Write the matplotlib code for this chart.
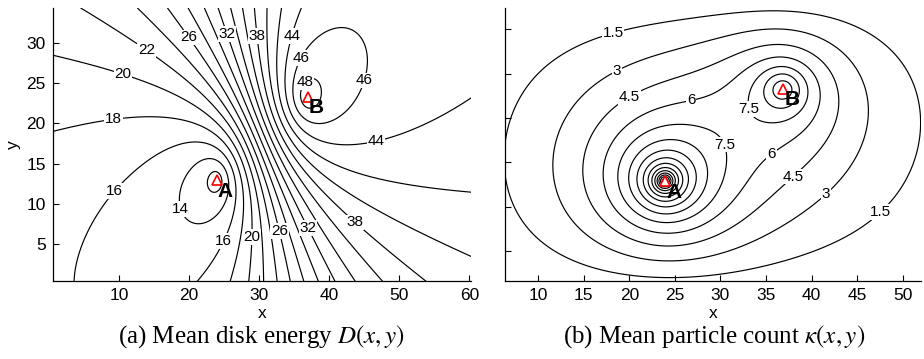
import numpy as np
import matplotlib
matplotlib.use("Agg")
import matplotlib.pyplot as plt

plt.rcParams['font.family'] = ['Liberation Sans', 'DejaVu Sans']
plt.rcParams['mathtext.fontset'] = 'stix'

# ---------------- sources A and B (same positions in both panels)
source_names = ["A", "B"]
source_x = [23.9, 36.9]
source_y = [12.9, 23.3]

# ---------------- panel (a): mean disk energy D(x,y)
# contour points: x, y, level
D_obs_x = [0.5, 0.5, 0.5, 4.8,
           9.5, 14.3, 17.6, 20.1, 21.7, 23.8, 25.7, 27.0, 28.7, 30.2, 31.9, 33.3, 35.0,
           23.2, 26.7, 29.0, 30.8, 32.5, 34.2, 36.0, 37.6, 39.5, 41.8, 44.8, 48.6,
           60.0, 60.0, 60.0,
           20.2, 10.2, 24.7, 9.5, 9.9, 28.9, 12.9, 18.6, 33.3, 24.2, 37.7, 28.8, 44.5,
           34.4, 46.4, 36.4, 44.4, 37.1,
           19.7, 23.3, 21.4, 21.4,
           38.6, 43.3, 45.5]
D_obs_y = [3.9, 17.7, 27.8, 6.7,
           34.0, 34.0, 34.0, 34.0, 34.0, 34.0, 34.0, 34.0, 34.0, 34.0, 34.0, 34.0, 34.0,
           0.5, 0.5, 0.5, 0.5, 0.5, 0.5, 0.5, 0.5, 0.5, 0.5, 0.5, 0.5,
           3.5, 14.0, 22.0,
           9.85, 10.7, 5.6, 18.1, 23.7, 5.8, 27.4, 29.7, 6.7, 30.7, 7.4, 30.7, 8.8,
           30.8, 19.8, 27.9, 25.6, 24.5,
           11.3, 14.4, 8.8, 15.9,
           21.0, 22.9, 29.9]
D_obs_level = [16, 18, 20, 16,
               22, 24, 26, 28, 30, 32, 34, 36, 38, 40, 42, 44, 46,
               16, 18, 20, 22, 24, 26, 28, 30, 32, 34, 36, 38,
               40, 42, 44,
               14, 16, 16, 18, 20, 20, 22, 26, 26, 32, 32, 38, 38,
               44, 44, 46, 46, 48,
               14, 14, 14, 16,
               46, 46, 46]
energy_core = 0.15
energy_levels = list(range(12, 52, 2))

# ---------------- panel (b): mean particle count kappa(x,y)
kappa_obs_x = [6.4, 33.2, 52.1, 21.8, 18.0, 48.0, 10.5,
               11.0, 18.5, 41.9, 48.5, 34.3, 23.3,
               20.0, 38.1, 14.1, 43.0, 24.0,
               26.9, 35.4, 16.7, 24.0, 40.7,
               29.5, 34.0, 18.4, 24.0, 24.0,
               19.7, 20.4, 21.1, 21.7, 22.2,
               34.1]
kappa_obs_y = [14.5, 31.8, 19.8, 1.9, 29.9, 8.9, 25.8,
               15.25, 25.6, 11.1, 19.0, 29.5, 4.5,
               22.4, 13.2, 14.5, 20.9, 6.4,
               21.5, 16.1, 14.1, 7.7, 22.4,
               16.6, 21.3, 12.9, 8.67, 17.9,
               12.9, 12.9, 12.9, 12.9, 12.9,
               23.3]
kappa_obs_level = [1.5, 1.5, 1.5, 1.5, 1.5, 1.5, 1.5,
                   3, 3, 3, 3, 3, 3,
                   4.5, 4.5, 4.5, 4.5, 4.5,
                   6, 6, 6, 6, 6,
                   7.5, 7.5, 7.5, 7.5, 7.5,
                   9, 10.5, 12, 13.5, 15,
                   9]
kappa_source_width = [0.3, 0.9]
kappa_levels = list(np.arange(1.5, 45.0, 1.5))

# ---------------- label placement (layout)
D_label_pos = {14: [(20.2, 9.85)], 16: [(10.2, 10.7), (24.7, 5.6)],
               18: [(9.5, 18.1)], 20: [(9.9, 23.7), (28.9, 5.8)],
               22: [(12.9, 27.4)], 26: [(18.6, 29.7), (33.3, 6.7)],
               32: [(24.2, 30.7), (37.7, 7.4)], 38: [(28.8, 30.7), (44.5, 8.8)],
               44: [(34.4, 30.8), (46.4, 19.8)], 46: [(36.4, 27.9), (44.4, 25.6)],
               48: [(37.1, 24.5)]}
K_label_pos = {1.5: [(18.0, 29.9), (48.0, 8.9)], 3.0: [(18.5, 25.6), (41.9, 11.1)],
               4.5: [(20.0, 22.4), (38.1, 13.2)], 6.0: [(26.9, 21.5), (35.4, 16.1)],
               7.5: [(29.5, 16.6), (34.0, 21.3)]}

# ================= helper: modified Bessel K0 via its integral
_t = np.linspace(0.0, 11.0, 1601)
_w = np.full(_t.shape, _t[1] - _t[0])
_w[0] *= 0.5
_w[-1] *= 0.5
_ch = np.cosh(_t)


def bessel_k0(z):
    z = np.asarray(z, float)
    flat = z.ravel()
    out = np.empty_like(flat)
    for i in range(0, flat.size, 1500):
        zz = flat[i:i + 1500]
        out[i:i + 1500] = np.exp(-zz[:, None] * _ch[None, :]) @ _w
    return out.reshape(z.shape)


def k0_pair(px, py, L, ratio, e_up, e_dn):
    out = []
    for sx, sy, Ls in zip(source_x, source_y, [L, L * ratio]):
        dyv = py - sy
        ev = np.where(dyv > 0, e_up, e_dn)
        r = np.sqrt((px - sx) ** 2 + (ev * dyv) ** 2 + energy_core ** 2)
        out.append(bessel_k0(r / Ls))
    return out


# ================= panel (a): fit energy mixing model to contour points
dx_ = np.array(D_obs_x, float)
dy_ = np.array(D_obs_y, float)
dl_ = np.array(D_obs_level, float)
hh = 0.3
shifts = [(0.0, 0.0), (hh, 0.0), (-hh, 0.0), (0.0, hh), (0.0, -hh)]
bestD = None
for L in [8.0, 10.0, 12.0, 15.0]:
    for ratio in [0.85, 1.0, 1.15]:
        for e_up in [0.6, 0.75, 0.9]:
            for e_dn in [0.8, 1.0, 1.2, 1.4]:
                bases = []
                for sxx, syy in shifts:
                    kA, kB = k0_pair(dx_ + sxx, dy_ + syy, L, ratio, e_up, e_dn)
                    bases.append(kB / kA)
                for beta in [0.0, 0.01, 0.02, 0.035, 0.05]:
                    for gam in [-0.015, -0.01, -0.005, 0.0, 0.005]:
                        qs = [b * np.exp(beta * (dy_ + syy - 18.0) + gam * (dx_ + sxx - 30.0))
                              for b, (sxx, syy) in zip(bases, shifts)]
                        q0 = qs[0]
                        wv = np.ones_like(q0)
                        ok = True
                        for _ in range(4):
                            A = np.stack([np.ones_like(q0), q0, -dl_ * q0], axis=1) * wv[:, None]
                            EA, rEB, rho = np.linalg.lstsq(A, dl_ * wv, rcond=None)[0]
                            if rho <= 0:
                                ok = False
                                break
                            Ds = [(EA + rEB * q) / (1.0 + rho * q) for q in qs]
                            gx = (Ds[1] - Ds[2]) / (2 * hh)
                            gy = (Ds[3] - Ds[4]) / (2 * hh)
                            g = np.maximum(np.hypot(gx, gy), 0.08)
                            wv = 1.0 / ((1.0 + rho * q0) * g)
                        if not ok:
                            continue
                        EB = rEB / rho
                        if not (0.0 < EA < 13.8 and 48.3 < EB < 75.0):
                            continue
                        res = np.sum(((Ds[0] - dl_) / g) ** 2)
                        if bestD is None or res < bestD[0]:
                            bestD = (res, L, ratio, e_up, e_dn, beta, gam, EA, EB, rho)

if bestD is None:
    bestD = (0, 10.0, 1.0, 0.8, 0.8, 0.0, 0.0, 10.0, 51.0, 1.05)
_, LD, ratD, eupD, ednD, betaD, gamD, EA, EB, rhoD = bestD
xa = np.arange(0.2, 60.5, 0.25)
ya = np.arange(0.1, 34.6, 0.25)
XA, YA = np.meshgrid(xa, ya)
gA, gB = k0_pair(XA, YA, LD, ratD, eupD, ednD)
Rg = rhoD * gB / gA * np.exp(betaD * (YA - 18.0) + gamD * (XA - 30.0))
D = (EA + EB * Rg) / (1.0 + Rg)

# ================= panel (b) field: screened diffusion in a box (mode sum)
NM, NN = 260, 150


def mode_coeffs(box, L, sx, sy, sig):
    x0, x1, y0, y1 = box
    W, H = x1 - x0, y1 - y0
    km = np.arange(1, NM + 1) * np.pi / W
    kn = np.arange(1, NN + 1) * np.pi / H
    k2 = km[:, None] ** 2 + kn[None, :] ** 2
    c = (4.0 / (W * H)) * np.outer(np.sin(km * (sx - x0)), np.sin(kn * (sy - y0))) \
        * np.exp(-0.5 * k2 * sig ** 2) / (k2 + 1.0 / L ** 2)
    return c, km, kn


def eval_points(c, km, kn, box, px, py):
    Sx = np.sin(np.outer(px - box[0], km))
    Sy = np.sin(np.outer(py - box[2], kn))
    return np.sum((Sx @ c) * Sy, axis=1)


def eval_grid(c, km, kn, box, gx, gy):
    Sx = np.sin(np.outer(gx - box[0], km))
    Sy = np.sin(np.outer(gy - box[2], kn))
    return Sy @ c.T @ Sx.T


ox = np.array(kappa_obs_x)
oy = np.array(kappa_obs_y)
ol = np.array(kappa_obs_level)
wts = 1.0 / ol ** 0.7
best = None
for L in [8.0, 11.0, 15.0, 20.0, 30.0, 50.0, 200.0]:
    for x0 in [-3.0, 0.0, 2.0]:
        for x1 in [55.0, 58.0, 61.0, 64.0]:
            for y0 in [-1.5, 0.0]:
                for y1 in [34.3, 35.5]:
                    box = (x0, x1, y0, y1)
                    cols = []
                    for sx, sy, sg in zip(source_x, source_y, kappa_source_width):
                        c, km, kn = mode_coeffs(box, L, sx, sy, sg)
                        cols.append(eval_points(c, km, kn, box, ox, oy))
                    Amat = np.stack(cols, axis=1) * wts[:, None]
                    q = np.linalg.lstsq(Amat, ol * wts, rcond=None)[0]
                    if np.any(q <= 0):
                        continue
                    res = np.sum((Amat @ q - ol * wts) ** 2)
                    if best is None or res < best[0]:
                        best = (res, L, box, q)

_, Lb, boxb, qb = best
xb = np.arange(6.0, 52.6, 0.2)
yb = np.arange(1.2, 32.9, 0.2)
K = np.zeros((len(yb), len(xb)))
for sx, sy, sg, qq in zip(source_x, source_y, kappa_source_width, qb):
    c, km, kn = mode_coeffs(boxb, Lb, sx, sy, sg)
    K += qq * eval_grid(c, km, kn, boxb, xb, yb)

# ================= figure
fig = plt.figure(figsize=(9.24, 3.59), dpi=100)
axL = fig.add_axes([0.0570, 0.2173, 0.4524, 0.7596])
axR = fig.add_axes([0.5465, 0.2173, 0.4502, 0.7596])

for ax in (axL, axR):
    for s in ('top', 'right'):
        ax.spines[s].set_visible(False)
    for s in ('left', 'bottom'):
        ax.spines[s].set_linewidth(0.9)
    ax.tick_params(direction='in', length=4, width=0.8, labelsize=12.5,
                   top=False, right=False, pad=5)


def label_contours(ax, cs, positions):
    levs = np.asarray(cs.levels)
    for lev, pts in positions.items():
        idx = np.where(np.abs(levs - lev) < 1e-6)[0]
        if len(idx) == 0:
            continue
        segs = [s for s in cs.allsegs[idx[0]] if len(s)]
        if not segs:
            continue
        verts = np.concatenate(segs)
        for (px, py) in pts:
            d2 = (verts[:, 0] - px) ** 2 + (verts[:, 1] - py) ** 2
            vx, vy = verts[np.argmin(d2)]
            ax.text(vx, vy, '%g' % lev, fontsize=11, ha='center', va='center',
                    zorder=4, bbox=dict(facecolor='white', edgecolor='none', pad=0.6))


csL = axL.contour(XA, YA, D, levels=energy_levels, colors='black', linewidths=0.85)
label_contours(axL, csL, D_label_pos)
csR = axR.contour(xb, yb, K, levels=kappa_levels, colors='black', linewidths=0.85)
label_contours(axR, csR, K_label_pos)

for ax in (axL, axR):
    ax.plot(source_x, source_y, linestyle='none', marker='^', ms=7,
            mfc='white', mec='red', mew=1.2, zorder=6)
    for nm, sx, sy in zip(source_names, source_x, source_y):
        ax.annotate(nm, (sx, sy), xytext=(6.5, -8), textcoords='offset points',
                    ha='center', va='center', fontsize=15, fontweight='bold',
                    zorder=7)

axL.set_xlim(0.5, 60.2)
axL.set_ylim(0.4, 34.3)
axL.set_xticks([10, 20, 30, 40, 50, 60])
axL.set_yticks([5, 10, 15, 20, 25, 30])
axL.set_xlabel('x', fontsize=12.5, labelpad=2)
axL.set_ylabel('y', fontsize=12.5, labelpad=4)

axR.set_xlim(6.35, 52.0)
axR.set_ylim(1.62, 32.37)
axR.set_xticks([10, 15, 20, 25, 30, 35, 40, 45, 50])
axR.set_yticks([5, 10, 15, 20, 25, 30])
axR.set_yticklabels([])
axR.set_xlabel('x', fontsize=12.5, labelpad=2)

fig.text(261 / 924, 1 - 337 / 359, r'(a) Mean disk energy $D(x,y)$',
         ha='center', va='center', fontsize=18, family='Liberation Serif')
fig.text(714 / 924, 1 - 337 / 359, r'(b) Mean particle count $\kappa(x,y)$',
         ha='center', va='center', fontsize=18, family='Liberation Serif')

fig.savefig('out.png', dpi=100)
